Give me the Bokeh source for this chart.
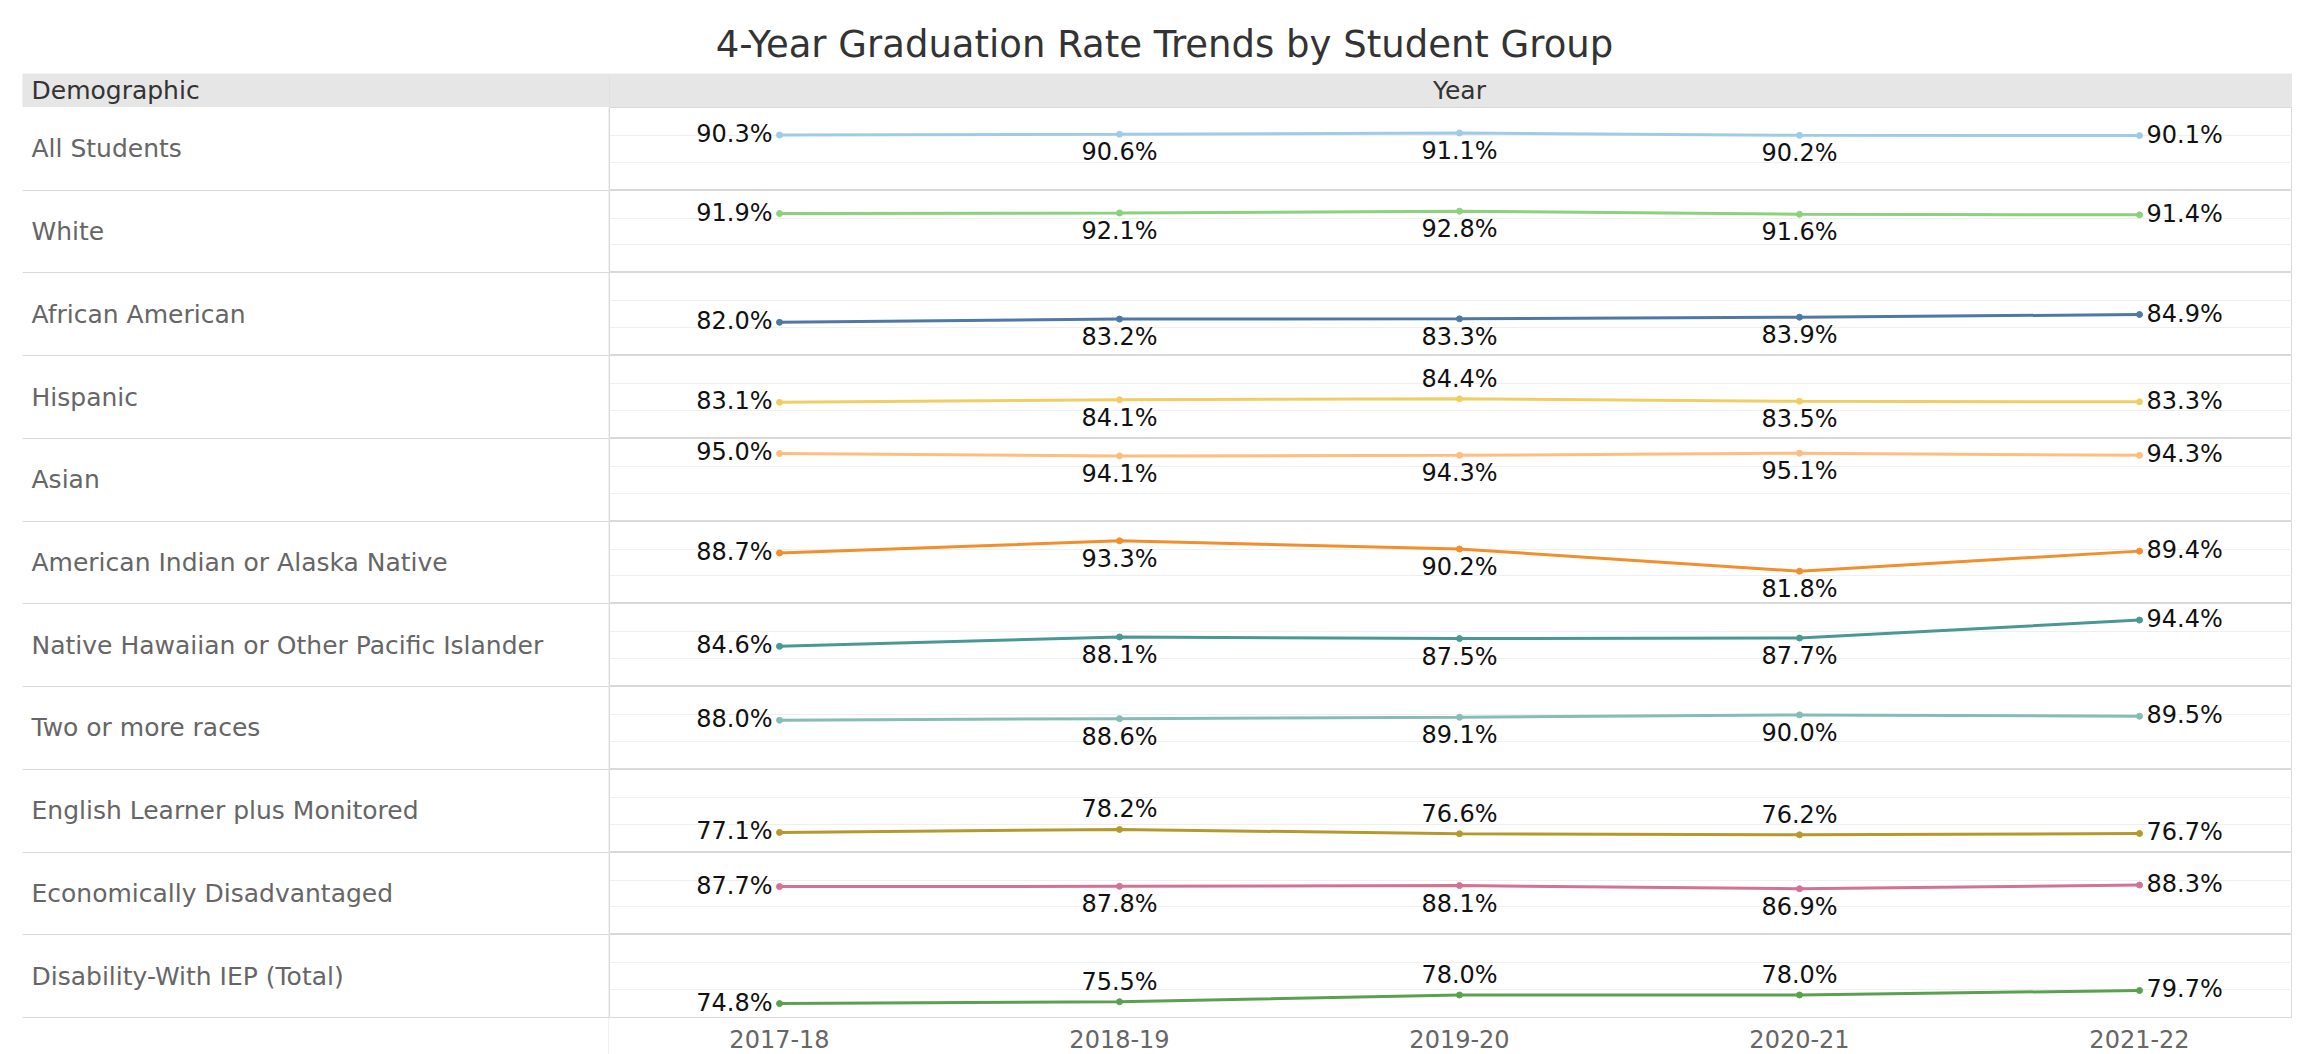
from bokeh.plotting import figure
from bokeh.models import ColumnDataSource, Range1d, FixedTicker, Label, Span
from bokeh.layouts import column, row
from bokeh.embed import file_html
from bokeh.resources import INLINE
from bokeh.core.properties import value

TITLE = "4-Year Graduation Rate Trends by Student Group"
years = ["2017-18", "2018-19", "2019-20", "2020-21", "2021-22"]
groups = [
    "All Students",
    "White",
    "African American",
    "Hispanic",
    "Asian",
    "American Indian or Alaska Native",
    "Native Hawaiian or Other Pacific Islander",
    "Two or more races",
    "English Learner plus Monitored",
    "Economically Disadvantaged",
    "Disability-With IEP (Total)",
]
all_students = [90.3, 90.6, 91.1, 90.2, 90.1]
white = [91.9, 92.1, 92.8, 91.6, 91.4]
african_american = [82.0, 83.2, 83.3, 83.9, 84.9]
hispanic = [83.1, 84.1, 84.4, 83.5, 83.3]
asian = [95.0, 94.1, 94.3, 95.1, 94.3]
american_indian = [88.7, 93.3, 90.2, 81.8, 89.4]
pacific_islander = [84.6, 88.1, 87.5, 87.7, 94.4]
two_or_more = [88.0, 88.6, 89.1, 90.0, 89.5]
english_learner = [77.1, 78.2, 76.6, 76.2, 76.7]
econ_disadv = [87.7, 87.8, 88.1, 86.9, 88.3]
disability = [74.8, 75.5, 78.0, 78.0, 79.7]

series = [all_students, white, african_american, hispanic, asian, american_indian,
          pacific_islander, two_or_more, english_learner, econ_disadv, disability]
colors = ["#a0cbe8", "#8cd17d", "#4e79a7", "#f1ce63", "#ffbe7d", "#f28e2b",
          "#499894", "#86bcb6", "#b6992d", "#d37295", "#59a14f"]
# placement of the labels of the inner points (style)
B, A = "below", "above"
mid_place = [[B, B, B], [B, B, B], [B, B, B], [B, A, B], [B, B, B], [B, B, B],
             [B, B, B], [B, B, B], [A, A, A], [B, B, B], [A, A, A]]

FONT = "DejaVu Sans"
W = 2292
LEFT_W = 609
PANE_W = W - LEFT_W
TITLE_H = 73
HDR_H = 34
ROWS_H = 910
AX_H = 37
n = len(groups)
bounds = [round(k * ROWS_H / n) for k in range(n + 1)]
heights = [bounds[k + 1] - bounds[k] for k in range(n)]

XR = Range1d(-0.5, 4.45)
YR = Range1d(69.6, 100.6)


def base_fig(**kw):
    p = figure(output_backend="svg", toolbar_location=None, min_border=0, **kw)
    p.outline_line_color = None
    p.xaxis.visible = False
    p.yaxis.visible = False
    p.xgrid.visible = False
    p.ygrid.visible = False
    p.background_fill_color = "white"
    p.border_fill_color = "white"
    return p


# title
tf = base_fig(width=W, height=TITLE_H, x_range=Range1d(0, 1), y_range=Range1d(0, 1))
tf.add_layout(Label(x=0.5, y=1 - 44 / TITLE_H, x_offset=18, text=TITLE, text_align="center",
                    text_baseline="middle", text_font=FONT, text_font_size="37px",
                    text_color="#333333"))

# header band
hl = base_fig(width=LEFT_W, height=HDR_H, min_border_left=22,
              x_range=Range1d(0, 1), y_range=Range1d(0, 1))
hl.background_fill_color = "#e6e6e6"
hl.add_layout(Label(x=0, y=0.5, x_offset=9, text="Demographic", text_baseline="middle",
                    text_font=FONT, text_font_size="25px", text_color="#333333"))

hr = base_fig(width=PANE_W, height=HDR_H, x_range=XR, y_range=Range1d(0, 1))
hr.background_fill_color = "#e6e6e6"
hr.add_layout(Label(x=(len(years) - 1) / 2, y=0.5, text="Year", text_align="center",
                    text_baseline="middle", text_font=FONT, text_font_size="25px",
                    text_color="#333333"))
hr.add_layout(Span(location=XR.start, dimension="height", line_color="#d0d0d0", line_width=1))

# row labels
lf = base_fig(width=LEFT_W, height=ROWS_H + AX_H, min_border_left=22,
              x_range=Range1d(0, 1), y_range=Range1d(-AX_H * n / ROWS_H, n))
lf.ygrid.visible = True
lf.ygrid.ticker = FixedTicker(ticks=list(range(n + 1)))
lf.ygrid.grid_line_color = "#d9d9d9"
lsrc = ColumnDataSource(dict(x=[0] * n, y=[n - i - 0.5 for i in range(n)], t=groups))
lf.text("x", "y", "t", source=lsrc, x_offset=9, text_baseline="middle", text_align="left",
        text_font=value(FONT), text_font_size="25px", text_color="#666666")
lf.add_layout(Span(location=0.9995, dimension="height", line_color="#d0d0d0", line_width=1))

# panes
xs = list(range(len(years)))
panes = []
for i, (vals, col) in enumerate(zip(series, colors)):
    last = i == n - 1
    p = base_fig(width=PANE_W, height=heights[i] + (AX_H if last else 0),
                 x_range=XR, y_range=YR, min_border_bottom=(AX_H if last else 0))
    p.outline_line_color = "#d9d9d9"
    p.ygrid.visible = True
    p.ygrid.ticker = FixedTicker(ticks=[80, 90])
    p.ygrid.grid_line_color = "#efefef"
    p.ygrid.grid_line_width = 1
    txt = [f"{v:.1f}%" for v in vals]
    src = ColumnDataSource(dict(x=xs, y=vals, t=txt))
    p.line("x", "y", source=src, line_color=col, line_width=3)
    p.scatter("x", "y", source=src, size=6, color=col)

    style = dict(text_font=value(FONT), text_font_size="24px", text_color="#111111")
    first_src = ColumnDataSource(dict(x=[xs[0]], y=[vals[0]], t=[txt[0]]))
    last_src = ColumnDataSource(dict(x=[xs[-1]], y=[vals[-1]], t=[txt[-1]]))
    p.text("x", "y", "t", source=first_src, x_offset=-7, y_offset=-1, text_align="right",
           text_baseline="middle", **style)
    p.text("x", "y", "t", source=last_src, x_offset=7, y_offset=-1, text_align="left",
           text_baseline="middle", **style)
    for place, off in (("below", 18), ("above", -20)):
        idx = [k + 1 for k, pl in enumerate(mid_place[i]) if pl == place]
        if not idx:
            continue
        s = ColumnDataSource(dict(x=[xs[k] for k in idx], y=[vals[k] for k in idx],
                                  t=[txt[k] for k in idx]))
        p.text("x", "y", "t", source=s, y_offset=off, text_align="center",
               text_baseline="middle", **style)

    if last:
        ax = p.xaxis[0]
        ax.visible = True
        ax.ticker = FixedTicker(ticks=xs)
        ax.major_label_overrides = {x: y for x, y in zip(xs, years)}
        ax.axis_line_color = None
        ax.major_tick_line_color = None
        ax.minor_tick_line_color = None
        ax.major_label_standoff = 6
        ax.major_label_text_font = FONT
        ax.major_label_text_font_size = "24px"
        ax.major_label_text_color = "#666666"
    panes.append(p)

layout = column(tf, row(hl, hr), row(lf, column(*panes)))

with open("out.html", "w") as f:
    f.write(file_html(layout, INLINE))
